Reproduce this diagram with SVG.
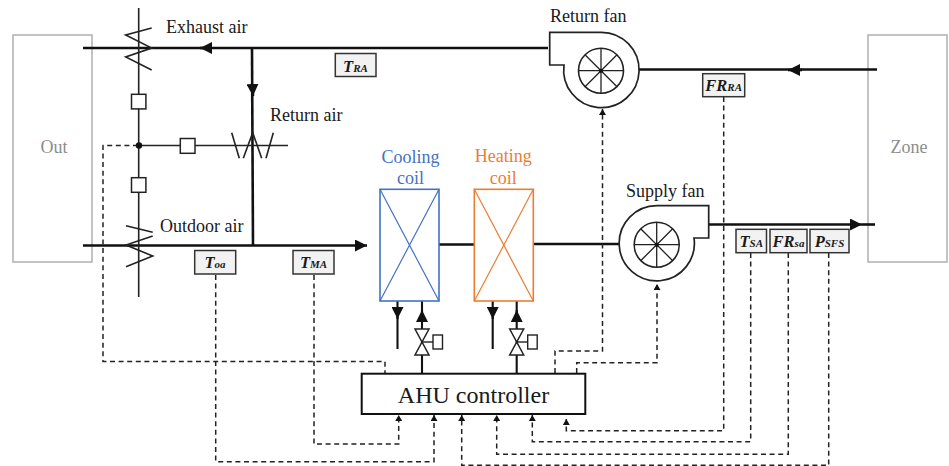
<svg xmlns="http://www.w3.org/2000/svg" xmlns:xlink="http://www.w3.org/1999/xlink" width="949" height="466" viewBox="0 0 949 466">
<style>
text{font-family:"Liberation Serif","Times New Roman",serif;fill:#1a1a1a}
.lbl{font-size:18px}
.zone{fill:none;stroke:#b5b5b5;stroke-width:1.6}
.zt{font-size:18px;fill:#8c8c8c;text-anchor:middle;font-family:"Liberation Serif",serif}
.duct{fill:none;stroke:#111;stroke-width:2.6}
.thin{fill:none;stroke:#222;stroke-width:1.6}
.pipe{fill:none;stroke:#111;stroke-width:2.1}
.dash{fill:none;stroke:#222;stroke-width:1.5;stroke-dasharray:5 3.6}
.sq{fill:#fff;stroke:#222;stroke-width:1.5}
.tag rect{fill:#f2f2f2;stroke:#333;stroke-width:1.5}
.tag text{font-weight:bold;font-style:italic;font-size:16.5px;text-anchor:middle}
.tag tspan{font-size:11px}
.coilb{fill:#fff;stroke:#4472c4;stroke-width:1.6}
.coilo{fill:#fff;stroke:#ed7d31;stroke-width:1.6}
.fan{fill:#fff;stroke:#222;stroke-width:1.7}
</style>
<defs>
<marker id="big" markerUnits="userSpaceOnUse" markerWidth="14" markerHeight="12" refX="12" refY="6" orient="auto"><path d="M0 0L12 6L0 12Z" fill="#111"/></marker>
<marker id="small" markerUnits="userSpaceOnUse" markerWidth="7" markerHeight="8" refX="6" refY="3.5" orient="auto"><path d="M0 0L6 3.5L0 7Z" fill="#111"/></marker>
<g id="wheel"><circle r="22.5" fill="#fff" stroke="#222" stroke-width="1.6"/><path d="M-22.5 0H22.5M0-22.5V22.5M-16-16L16 16M-16 16L16-16" stroke="#222" stroke-width="1.3"/><circle r="2" fill="#111"/></g>
<g id="valve"><path d="M-7-13H7L-7 13H7Z" fill="#fff" stroke="#222" stroke-width="1.5"/><path d="M0 0H11" stroke="#222" stroke-width="1.4"/><rect x="11" y="-7" width="9.5" height="14" fill="#fff" stroke="#222" stroke-width="1.4"/></g>
</defs>

<g id="out"><rect class="zone" x="13" y="35" width="79" height="227"/><text class="zt" x="54" y="152.7">Out</text></g>
<g id="zone"><rect class="zone" x="868" y="35" width="79" height="227"/><text class="zt" x="909" y="152.7">Zone</text></g>

<g id="connectors">
<path class="duct" d="M548 48H83"/>
<path class="duct" d="M211 48H200" marker-end="url(#big)"/>
<path class="duct" d="M252 49L253 246"/>
<path class="duct" d="M252.5 84L253 96" marker-end="url(#big)"/>
<path class="duct" d="M83 245.5H367" marker-end="url(#big)"/>
<path class="duct" d="M639 69.5H877"/>
<path class="duct" d="M802 70H788" marker-end="url(#big)"/>
<path class="duct" d="M439 244.5H474M533 244H620"/>
<path class="duct" d="M709 224.5H862" marker-end="url(#big)"/>
<path class="duct" d="M862 224.5H875" stroke-width="1.8"/>

<path class="thin" d="M138.7 8V297"/>
<path class="thin" d="M139 145.5H288" />
<path class="thin" d="M151.7 28L125.7 35L151.7 48L125.7 57L151.7 70"/>
<path class="thin" d="M126 225.7L152.7 232.3M152.7 236L126 245L152.7 256L126 266.7"/>
<path class="thin" d="M231.7 132.7L239.3 158.3M243.3 158.3L252.7 132.7L261.7 158.3M266 158.3L273.3 132.7"/>

<path class="pipe" d="M397.5 301V349"/><path class="pipe" d="M397.5 308V319" marker-end="url(#big)"/>
<path class="pipe" d="M422 373V301"/><path class="pipe" d="M422 322V310" marker-end="url(#big)"/>
<path class="pipe" d="M492.7 301V349"/><path class="pipe" d="M492.7 308V319" marker-end="url(#big)"/>
<path class="pipe" d="M516.7 373V301"/><path class="pipe" d="M516.7 322V310" marker-end="url(#big)"/>

<path class="dash" d="M138 145.5H103V361.5H385V373"/>
<path class="dash" d="M215.7 275V461.7H434V415" marker-end="url(#small)"/>
<path class="dash" d="M314 275V444H398.7V415" marker-end="url(#small)"/>
<path class="dash" d="M723.7 97V430.7H566.3V419" marker-end="url(#small)"/>
<path class="dash" d="M750.7 253V441.7H532.3V415" marker-end="url(#small)"/>
<path class="dash" d="M788.3 253V454.3H496.7V415" marker-end="url(#small)"/>
<path class="dash" d="M828.7 253V465.3H461.7V415" marker-end="url(#small)"/>
<path class="dash" d="M555 373V351H602.5V109" marker-end="url(#small)"/>
<path class="dash" d="M576.7 373V362.7H657V284" marker-end="url(#small)"/>
</g>

<g id="damper-squares">
<rect class="sq" x="131.5" y="94.3" width="14.4" height="14.6"/>
<rect class="sq" x="131.5" y="177.7" width="14.4" height="14.6"/>
<rect class="sq" x="180.3" y="138.5" width="14.7" height="14.8"/>
<circle cx="139" cy="145.5" r="3.2" fill="#111"/>
</g>

<g id="labels">
<text class="lbl" x="166" y="33">Exhaust air</text>
<text class="lbl" x="270" y="120.7">Return air</text>
<text class="lbl" x="160" y="231.7">Outdoor air</text>
</g>

<g id="tag-tra" class="tag"><rect x="335.3" y="53.5" width="40.7" height="23"/><text x="355.5" y="71.5">T<tspan>RA</tspan></text></g>
<g id="tag-toa" class="tag"><rect x="194.7" y="250.5" width="41" height="23.5"/><text x="215" y="268">T<tspan>oa</tspan></text></g>
<g id="tag-tma" class="tag"><rect x="293" y="250.5" width="41" height="23.5"/><text x="313.5" y="268">T<tspan>MA</tspan></text></g>
<g id="tag-frra" class="tag"><rect x="702.7" y="73.7" width="42" height="23"/><text x="723.7" y="91">FR<tspan>RA</tspan></text></g>
<g id="tag-tsa" class="tag"><rect x="736" y="229.3" width="30.5" height="23.4"/><text x="751.3" y="247">T<tspan>SA</tspan></text></g>
<g id="tag-frsa" class="tag"><rect x="770" y="229.3" width="37" height="23.4"/><text x="788.5" y="247">FR<tspan>sa</tspan></text></g>
<g id="tag-psfs" class="tag"><rect x="810" y="229.3" width="39" height="23.4"/><text x="829.5" y="247">P<tspan>SFS</tspan></text></g>

<g id="cooling-coil">
<text x="410.5" y="162.7" class="lbl" style="fill:#4472c4" text-anchor="middle">Cooling</text>
<text x="410.5" y="184.3" class="lbl" style="fill:#4472c4" text-anchor="middle">coil</text>
<rect class="coilb" x="380" y="189.3" width="59" height="111.7"/>
<path d="M380 189.3L439 301M439 189.3L380 301" stroke="#4472c4" stroke-width="1.2"/>
</g>
<g id="heating-coil">
<text x="503.3" y="162" class="lbl" style="fill:#ed7d31" text-anchor="middle">Heating</text>
<text x="503.3" y="184" class="lbl" style="fill:#ed7d31" text-anchor="middle">coil</text>
<rect class="coilo" x="474.3" y="189.3" width="59" height="111.7"/>
<path d="M474.3 189.3L533.3 301M533.3 189.3L474.3 301" stroke="#ed7d31" stroke-width="1.2"/>
</g>
<g id="cooling-valve"><use href="#valve" xlink:href="#valve" x="422" y="342"/></g>
<g id="heating-valve"><use href="#valve" xlink:href="#valve" x="516.7" y="342"/></g>

<g id="return-fan">
<text class="lbl" x="550" y="21.7">Return fan</text>
<path class="fan" d="M549.7 32.3H601A37.7 37.7 0 1 1 564 65H549.7Z"/>
<use href="#wheel" xlink:href="#wheel" x="601" y="70.7"/>
</g>
<g id="supply-fan">
<text class="lbl" x="626" y="196.7">Supply fan</text>
<path class="fan" d="M708.7 205.7H657A37.6 37.6 0 1 0 694 238H708.7Z"/>
<use href="#wheel" xlink:href="#wheel" x="656.7" y="244.7"/>
</g>

<g id="ahu-controller">
<rect x="361.7" y="373.7" width="223.6" height="40.3" fill="#fff" stroke="#111" stroke-width="2"/>
<text x="473.5" y="402.7" font-size="24" text-anchor="middle">AHU controller</text>
</g>
</svg>
